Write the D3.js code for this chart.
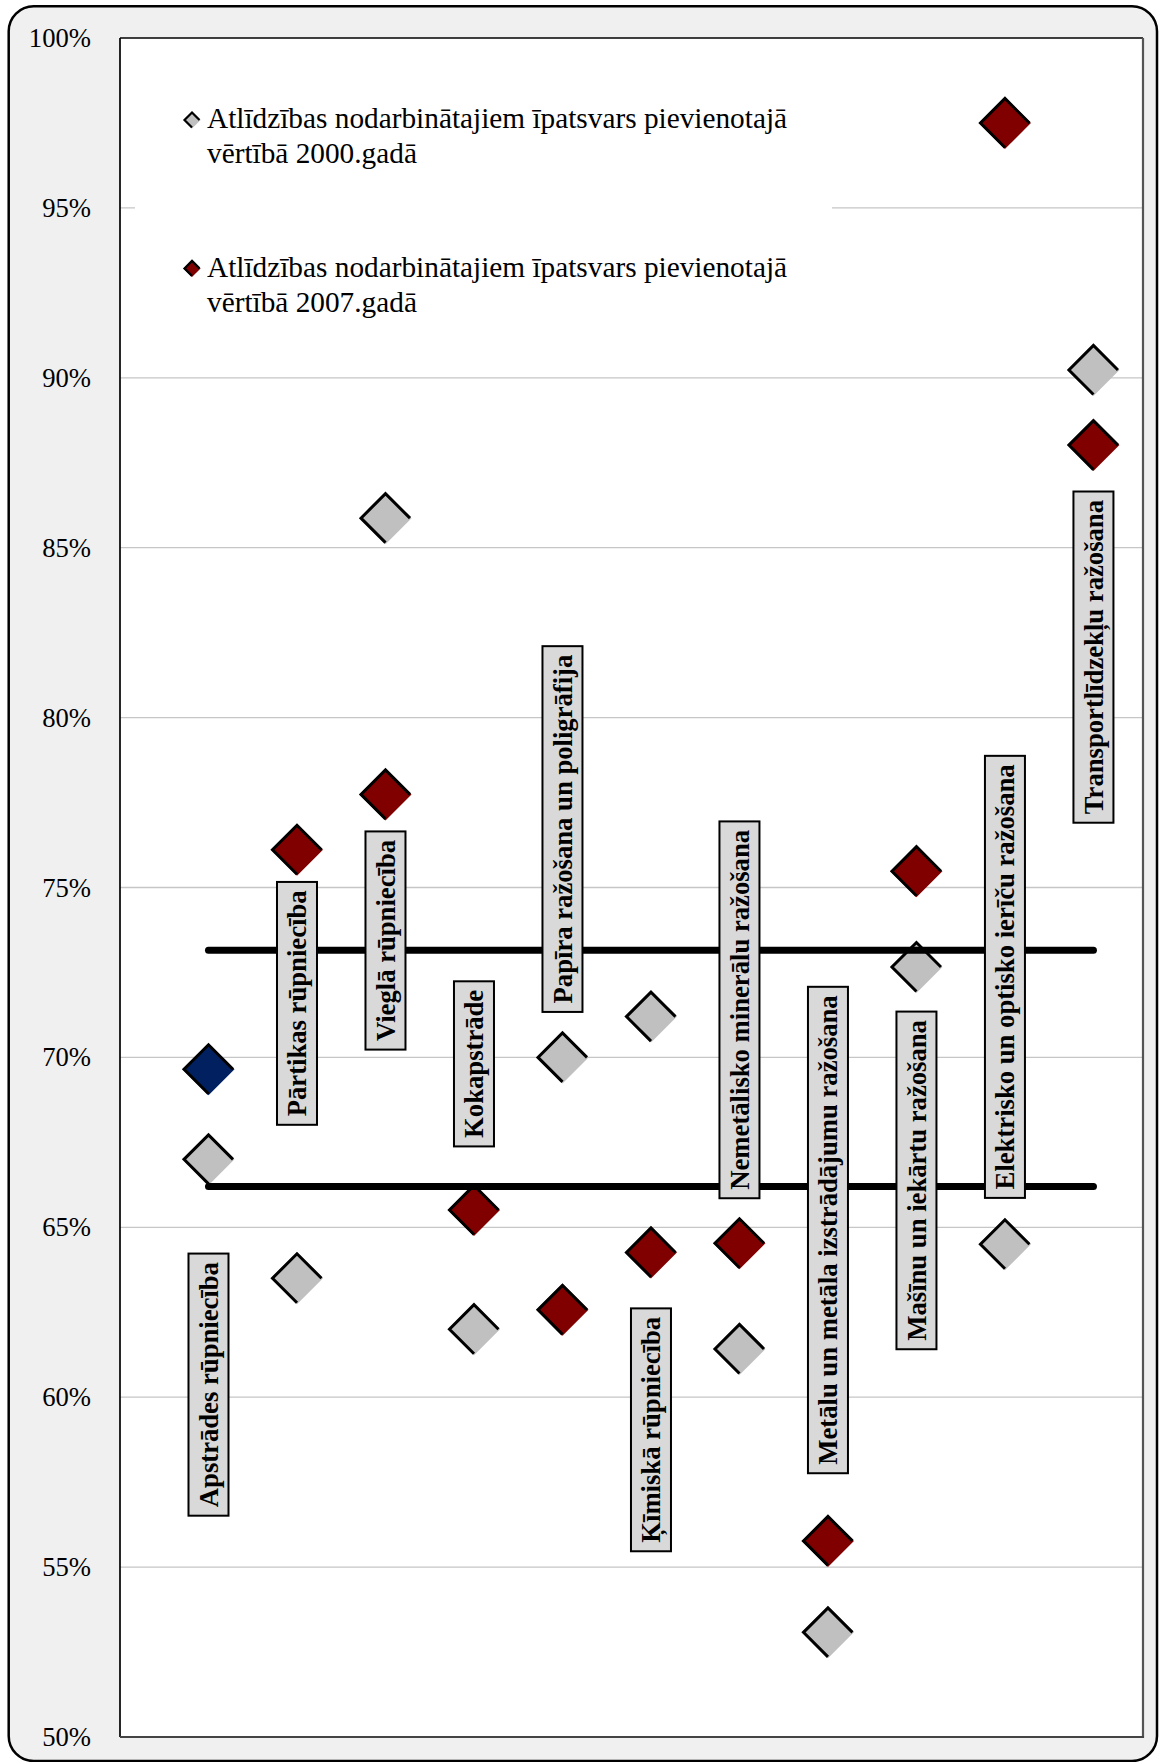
<!DOCTYPE html>
<html>
<head>
<meta charset="utf-8">
<script src="https://cdn.jsdelivr.net/npm/d3@7"></script>
<style>
  html, body { margin: 0; padding: 0; background: #ffffff; }
  svg { display: block; }
  text { font-family: "Liberation Serif", "Times New Roman", serif; }
</style>
</head>
<body>
<svg id="chart" width="1159" height="1762"></svg>
<script>
// ---------------- data ----------------
const categories = [
  "Apstrādes rūpniecība",
  "Pārtikas rūpniecība",
  "Vieglā rūpniecība",
  "Kokapstrāde",
  "Papīra ražošana un poligrāfija",
  "Ķīmiskā rūpniecība",
  "Nemetālisko minerālu ražošana",
  "Metālu un metāla izstrādājumu ražošana",
  "Mašīnu un iekārtu ražošana",
  "Elektrisko un optisko ierīču ražošana",
  "Transportlīdzekļu ražošana"
];
const share2000 = [67.0, 63.5, 85.87, 62.0, 70.0, 71.2, 61.42, 53.08, 72.66, 64.5, 90.23];
const share2007 = [69.65, 76.11, 77.74, 65.51, 62.57, 64.26, 64.53, 55.77, 75.48, 97.5, 88.02];
// label box centres, in the chart's % units
const labelAt = [60.37, 71.59, 73.44, 69.81, 76.72, 59.04, 71.4, 64.92, 66.38, 72.37, 81.78];
// two reference levels drawn as thick horizontal lines
const refLevels = [73.15, 66.2];
const yTicks = [50, 55, 60, 65, 70, 75, 80, 85, 90, 95, 100];
const legendLabels = [
  ["Atlīdzības nodarbinātajiem īpatsvars pievienotajā", "vērtībā 2000.gadā"],
  ["Atlīdzības nodarbinātajiem īpatsvars pievienotajā", "vērtībā 2007.gadā"]
];

// ---------------- layout ----------------
const plot = { left: 120, top: 38, right: 1143, bottom: 1737 };
const serif = "'Liberation Serif', 'Times New Roman', serif";
const cGray = "#c0c0c0", cRed = "#800000", cBlue = "#002060";

const svg = d3.select("#chart");

// outer rounded frame
svg.append("rect")
  .attr("x", 8.7).attr("y", 6.2).attr("width", 1148.3).attr("height", 1754.8)
  .attr("rx", 25).attr("ry", 25)
  .attr("fill", "#f0f0f0").attr("stroke", "#000").attr("stroke-width", 2.5);

// plot area
svg.append("rect")
  .attr("x", plot.left).attr("y", plot.top)
  .attr("width", plot.right - plot.left).attr("height", plot.bottom - plot.top)
  .attr("fill", "#fff");

const x = d3.scaleLinear().domain([0, 11.56]).range([plot.left, plot.right]);
const y = d3.scaleLinear().domain([50, 100]).range([plot.bottom, plot.top]);

// gridlines
svg.append("g").selectAll("line")
  .data(yTicks.filter(t => t > 50 && t < 100))
  .join("line")
  .attr("x1", plot.left).attr("x2", plot.right)
  .attr("y1", d => y(d)).attr("y2", d => y(d))
  .attr("stroke", "#c6c6c6").attr("stroke-width", 1.3);

// legend background (hides gridline)
svg.append("rect")
  .attr("x", 135).attr("y", 70).attr("width", 697).attr("height", 270)
  .attr("fill", "#fff");

// plot border
svg.append("line").attr("x1", plot.left).attr("x2", plot.right).attr("y1", plot.top).attr("y2", plot.top)
  .attr("stroke", "#000").attr("stroke-width", 1.7);
svg.append("line").attr("x1", plot.left).attr("x2", plot.left).attr("y1", plot.top).attr("y2", plot.bottom)
  .attr("stroke", "#000").attr("stroke-width", 1.7);
svg.append("line").attr("x1", plot.right).attr("x2", plot.right).attr("y1", plot.top).attr("y2", plot.bottom + 1)
  .attr("stroke", "#555").attr("stroke-width", 2.2);
svg.append("line").attr("x1", plot.left).attr("x2", plot.right + 1).attr("y1", plot.bottom).attr("y2", plot.bottom)
  .attr("stroke", "#444").attr("stroke-width", 2.2);

// y axis
const yAxis = d3.axisLeft(y).tickValues(yTicks).tickFormat(d => d + "%").tickSize(0).tickPadding(29);
const ga = svg.append("g").attr("transform", `translate(${plot.left},0)`).call(yAxis);
ga.attr("font-family", null).attr("font-size", null);
ga.select(".domain").remove();
ga.selectAll("text")
  .style("font-family", serif).style("font-size", "26.67px").attr("fill", "#000");

// diamond marker: fill + outline on three edges (bottom-right edge unstroked)
function diamond(g, cx, cy, r, fill, sw) {
  const rf = r + sw / 2;
  g.append("path")
    .attr("d", `M${cx},${cy - rf}L${cx + rf},${cy}L${cx},${cy + rf}L${cx - rf},${cy}Z`)
    .attr("fill", fill);
  g.append("path")
    .attr("d", `M${cx},${cy + r}L${cx - r},${cy}L${cx},${cy - r}L${cx + r},${cy}`)
    .attr("fill", "none").attr("stroke", "#000").attr("stroke-width", sw)
    .attr("stroke-linejoin", "miter");
}

const gm = svg.append("g");
share2000.forEach((v, i) => diamond(gm, x(i + 1), y(v), 24.5, cGray, 3));
share2007.forEach((v, i) => diamond(gm, x(i + 1), y(v), 24.5, i === 0 ? cBlue : cRed, 3));

// reference lines
svg.append("g").selectAll("line")
  .data(refLevels)
  .join("line")
  .attr("x1", x(1)).attr("x2", x(categories.length))
  .attr("y1", d => y(d)).attr("y2", d => y(d))
  .attr("stroke", "#000").attr("stroke-width", 7).attr("stroke-linecap", "round");

// category labels (rotated boxes)
const gl = svg.append("g");
categories.forEach((c, i) => {
  const g = gl.append("g")
    .attr("transform", `translate(${x(i + 1)},${y(labelAt[i])}) rotate(-90)`);
  const rect = g.append("rect");
  const t = g.append("text")
    .attr("text-anchor", "middle").attr("dy", "0.35em")
    .style("font-family", serif).style("font-weight", "bold").style("font-size", "26.67px")
    .attr("fill", "#000").text(c);
  const len = t.node().getComputedTextLength();
  rect.attr("x", -len / 2 - 8.5).attr("y", -20).attr("width", len + 17).attr("height", 40)
    .attr("fill", "#d9d9d9").attr("stroke", "#000").attr("stroke-width", 2);
});

// legend
const gLeg = svg.append("g");
const legColors = [cGray, cRed];
legendLabels.forEach((lines, k) => {
  const base = 128.3 + k * 148.4;
  diamond(gLeg, 192, base - 8.3, 7.5, legColors[k], 2.2);
  const t = gLeg.append("text")
    .style("font-family", serif).style("font-size", "29.3px").attr("fill", "#000");
  lines.forEach((ln, j) => {
    t.append("tspan").attr("x", 207).attr("y", base + j * 35).text(ln);
  });
});
</script>
</body>
</html>
